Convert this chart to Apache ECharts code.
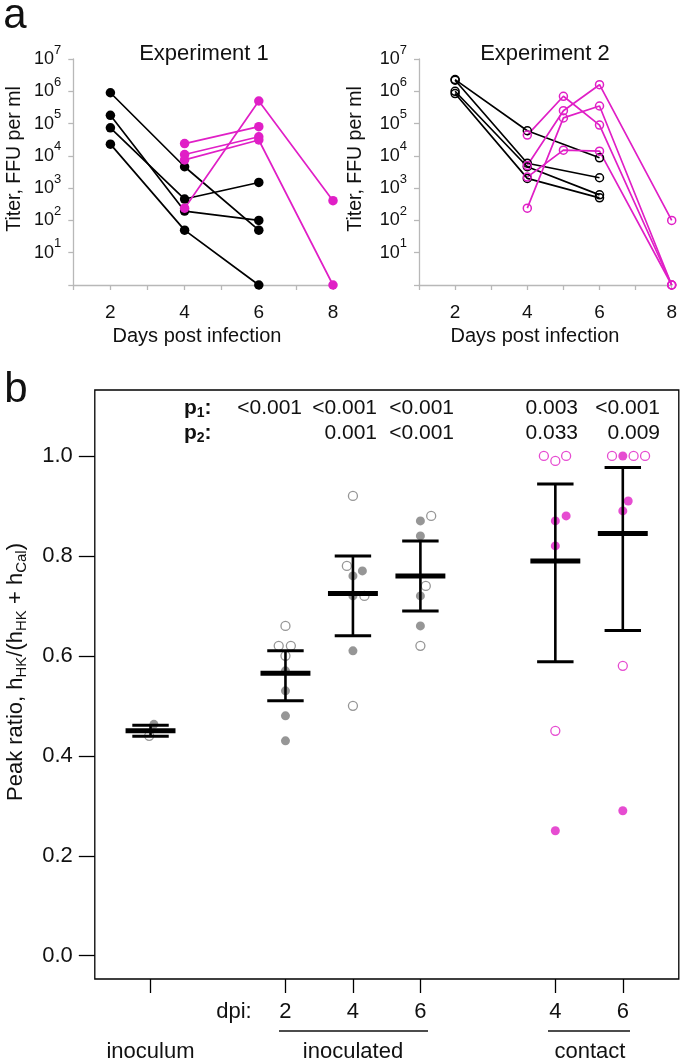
<!DOCTYPE html>
<html>
<head>
<meta charset="utf-8">
<script src="https://cdn.jsdelivr.net/npm/echarts@6/dist/echarts.min.js"></script>
<style>
  html, body { margin: 0; padding: 0; background: #fff; }
  #main { width: 680px; height: 1063px; }
</style>
</head>
<body>
<div id="main"></div>
<script>
// ---- panel a: titers (FFU per ml) ----
var exp1BlackDays = [2, 4, 6];
var exp1Black = [
  [9e5, 4.6e3, 50],
  [1.8e5, 195, 100],
  [7.4e4, 460, 1500],
  [2.3e4, 50, 1]
];
var exp1MagentaDays = [4, 6, 8];
var exp1Magenta = [
  [2.4e4, 8e4, null],
  [1.1e4, 3.9e4, null],
  [7.5e3, 3.1e4, 1],
  [240, 5e5, 410]
];
var exp2BlackDays = [2, 4, 6];
var exp2Black = [
  [2.3e6, 6e4, 8.7e3],
  [2.2e6, 5.9e3, 2.1e3],
  [1.0e6, 4.6e3, 620],
  [8.5e5, 2e3, 500]
];
var exp2MagentaDays = [4, 5, 6, 8];
var exp2Magenta = [
  [4.4e4, 7e5, 9e4, 1],
  [5e3, 2.5e5, 1.6e6, 100],
  [240, 1.5e5, 3.5e5, 1],
  [2.2e3, 1.5e4, 1.4e4, 1]
];

// ---- panel b: peak ratio ----
var groupX = [1, 3, 4, 5, 7, 8];
var groupDpi = ["", "2", "4", "6", "4", "6"];
var groupMean = [0.45, 0.565, 0.725, 0.76, 0.79, 0.845];
var groupLower = [0.439, 0.51, 0.64, 0.69, 0.588, 0.651];
var groupUpper = [0.461, 0.61, 0.80, 0.83, 0.944, 0.977];
var yTicksB = [0, 0.2, 0.4, 0.6, 0.8, 1.0];

var pointGroup = [0, 0,
  1, 1, 1, 1, 1, 1, 1, 1,
  2, 2, 2, 2, 2, 2, 2, 2,
  3, 3, 3, 3, 3, 3, 3,
  4, 4, 4, 4, 4, 4, 4, 4,
  5, 5, 5, 5, 5, 5, 5, 5];
var pointValue = [0.463, 0.44,
  0.66, 0.62, 0.62, 0.60, 0.57, 0.53, 0.48, 0.43,
  0.92, 0.78, 0.77, 0.76, 0.72, 0.72, 0.61, 0.50,
  0.87, 0.88, 0.84, 0.74, 0.72, 0.66, 0.62,
  1.0, 0.99, 1.0, 0.88, 0.87, 0.82, 0.45, 0.25,
  1.0, 1.0, 1.0, 1.0, 0.91, 0.89, 0.58, 0.29];
var pointFilled = [1, 0,
  0, 0, 0, 0, 1, 1, 1, 1,
  0, 0, 1, 1, 1, 0, 1, 0,
  1, 0, 1, 0, 1, 1, 0,
  0, 0, 0, 1, 1, 1, 0, 1,
  0, 1, 0, 0, 1, 1, 0, 1];
// horizontal jitter of overlapping points
var pointJitter = [0.05, -0.02,
  0, -0.1, 0.08, 0, 0, 0, 0, 0,
  0, -0.09, 0.14, 0, 0, 0.17, 0, 0,
  0, 0.16, 0, 0.08, 0, 0, 0,
  -0.17, 0, 0.16, 0.16, 0, 0, 0, 0,
  -0.16, 0, 0.16, 0.33, 0.08, 0, 0, 0];

var p1Values = ["<0.001", "<0.001", "<0.001", "0.003", "<0.001"];
var p2Values = ["", "0.001", "<0.001", "0.033", "0.009"];

(function() {
  var myChart = echarts.init(document.getElementById("main"));
  var FONT = '"Liberation Sans", Arial, sans-serif';
  var MAGENTA = "#e01fc6";
  var GRAY = "#7c7c7c";
  var AXGRAY = "#b8b8b8";

  function titerSeries(days, rows, grid, open, color) {
    return rows.map(function(row) {
      var pts = [];
      row.forEach(function(v, i) {
        if (v != null) pts.push([days[i], v]);
      });
      return {
        type: "line",
        xAxisIndex: grid,
        yAxisIndex: grid,
        data: pts,
        symbol: "circle",
        symbolSize: open ? 8 : 9.5,
        silent: true,
        lineStyle: { color: color, width: 1.7 },
        itemStyle: open
          ? { color: "rgba(0,0,0,0)", borderColor: color, borderWidth: 1.5 }
          : { color: color, borderWidth: 0 }
      };
    });
  }

  function pointSeries(filled, magenta) {
    var data = [];
    pointValue.forEach(function(v, i) {
      var g = pointGroup[i];
      var isMag = g >= 4;
      if (pointFilled[i] === filled && isMag === magenta) {
        data.push([groupX[g] + pointJitter[i], v]);
      }
    });
    var c = magenta ? MAGENTA : GRAY;
    return {
      type: "scatter",
      xAxisIndex: 2,
      yAxisIndex: 2,
      data: data,
      symbol: "circle",
      symbolSize: 9,
      silent: true,
      z: 3,
      itemStyle: filled
        ? { color: c, borderWidth: 0 }
        : { color: "rgba(0,0,0,0)", borderColor: c, borderWidth: 1.3 }
    };
  }

  function supLabel(v) {
    var e = Math.round(Math.log(v) / Math.LN10);
    if (e === 0) return "";
    return "{b|10}{s|" + e + "}";
  }

  var supRich = {
    b: { fontSize: 18, fontFamily: FONT, color: "#111" },
    s: { fontSize: 13, fontFamily: FONT, color: "#111", padding: [0, 0, 18, 0] }
  };

  function titerX(grid) {
    return {
      gridIndex: grid,
      type: "value",
      min: 1,
      max: 8,
      interval: 1,
      axisLine: { onZero: false, lineStyle: { color: AXGRAY, width: 1.3 } },
      axisTick: { length: 5, lineStyle: { color: AXGRAY, width: 1.3 } },
      axisLabel: {
        formatter: function(v) { return v % 2 === 0 ? String(v) : ""; },
        fontSize: 19,
        fontFamily: FONT,
        color: "#111",
        margin: 18,
        showMinLabel: true,
        showMaxLabel: true
      },
      splitLine: { show: false }
    };
  }

  function titerY(grid) {
    return {
      gridIndex: grid,
      type: "log",
      logBase: 10,
      min: 1,
      max: 1e7,
      splitNumber: 7,
      axisLine: { show: true, onZero: false, lineStyle: { color: AXGRAY, width: 1.3 } },
      axisTick: { show: true, length: 5, lineStyle: { color: AXGRAY, width: 1.3 } },
      axisLabel: {
        formatter: supLabel,
        rich: supRich,
        margin: 12,
        showMinLabel: true,
        showMaxLabel: true
      },
      splitLine: { show: false }
    };
  }

  var series = []
    .concat(titerSeries(exp1BlackDays, exp1Black, 0, false, "#000"))
    .concat(titerSeries(exp1MagentaDays, exp1Magenta, 0, false, MAGENTA))
    .concat(titerSeries(exp2BlackDays, exp2Black, 1, true, "#000"))
    .concat(titerSeries(exp2MagentaDays, exp2Magenta, 1, true, MAGENTA))
    .concat([
      pointSeries(1, false),
      pointSeries(0, false),
      pointSeries(1, true),
      pointSeries(0, true)
    ]);

  // mean with error bars
  series.push({
    type: "custom",
    xAxisIndex: 2,
    yAxisIndex: 2,
    z: 10,
    silent: true,
    encode: { x: 0, y: 1 },
    data: groupX.map(function(x, i) {
      return [x, groupMean[i], groupLower[i], groupUpper[i]];
    }),
    renderItem: function(params, api) {
      var x = api.value(0);
      var m = api.coord([x, api.value(1)]);
      var lo = api.coord([x, api.value(2)]);
      var hi = api.coord([x, api.value(3)]);
      var capW = api.size([0.27, 0])[0];
      var meanW = api.size([0.37, 0])[0];
      var st = { stroke: "#000", lineWidth: 3 };
      return {
        type: "group",
        children: [
          { type: "line", shape: { x1: lo[0], y1: lo[1], x2: hi[0], y2: hi[1] }, style: { stroke: "#000", lineWidth: 2.6 } },
          { type: "line", shape: { x1: lo[0] - capW, y1: lo[1], x2: lo[0] + capW, y2: lo[1] }, style: st },
          { type: "line", shape: { x1: hi[0] - capW, y1: hi[1], x2: hi[0] + capW, y2: hi[1] }, style: st },
          { type: "line", shape: { x1: m[0] - meanW, y1: m[1], x2: m[0] + meanW, y2: m[1] }, style: { stroke: "#000", lineWidth: 5 } }
        ]
      };
    }
  });

  function txt(x, y, text, size, extra) {
    var style = {
      text: text,
      fontSize: size,
      fontFamily: FONT,
      fill: "#111",
      align: "center",
      verticalAlign: "middle"
    };
    for (var k in (extra || {})) style[k] = extra[k];
    return { type: "text", x: x, y: y, style: style, silent: true };
  }

  var graphics = [
    txt(15, 16, "a", 42),
    txt(16, 390, "b", 42),
    txt(204, 54, "Experiment 1", 22),
    txt(545, 54, "Experiment 2", 22),
    txt(197, 336, "Days post infection", 20),
    txt(535, 336, "Days post infection", 20)
  ];
  [15, 356].forEach(function(x) {
    var t = txt(x, 159, "Titer, FFU per ml", 19.5);
    t.rotation = Math.PI / 2;
    graphics.push(t);
  });
  var yl = txt(16, 672, "Peak ratio, h{s|HK}/(h{s|HK} + h{s|Cal})", 22, {
    rich: { s: { fontSize: 15, fontFamily: FONT, fill: "#111", padding: [12, 0, 0, 0] } }
  });
  yl.rotation = Math.PI / 2;
  graphics.push(yl);

  // p-values
  var pRich = { s: { fontSize: 14, fontWeight: "bold", fontFamily: FONT, fill: "#111", padding: [10, 0, 0, 0] } };
  graphics.push(txt(184, 408, "p{s|1}:", 21, { align: "left", fontWeight: "bold", rich: pRich }));
  graphics.push(txt(184, 433, "p{s|2}:", 21, { align: "left", fontWeight: "bold", rich: pRich }));
  var pRight = [302, 377, 454, 578, 660];
  p1Values.forEach(function(p, i) {
    graphics.push(txt(pRight[i], 408, p, 21, { align: "right" }));
  });
  p2Values.forEach(function(p, i) {
    if (p) graphics.push(txt(pRight[i], 433, p, 21, { align: "right" }));
  });

  // group labels under panel b
  graphics.push(txt(234, 1012, "dpi:", 22));
  graphics.push({ type: "line", shape: { x1: 279, y1: 1031, x2: 428, y2: 1031 }, style: { stroke: "#111", lineWidth: 1.3 }, silent: true });
  graphics.push({ type: "line", shape: { x1: 548, y1: 1031, x2: 630, y2: 1031 }, style: { stroke: "#111", lineWidth: 1.3 }, silent: true });
  graphics.push(txt(150.5, 1052, "inoculum", 22));
  graphics.push(txt(353, 1052, "inoculated", 22));
  graphics.push(txt(590, 1052, "contact", 22));

  var option = {
    animation: false,
    backgroundColor: "#fff",
    grid: [
      { left: 73.3, top: 59, width: 259.7, height: 226 },
      { left: 419, top: 59, width: 254.3, height: 226 },
      { left: 94.8, top: 390, width: 584, height: 589, show: true, borderColor: "#000", borderWidth: 1.3 }
    ],
    xAxis: [
      titerX(0),
      titerX(1),
      {
        gridIndex: 2,
        type: "value",
        min: 0.174,
        max: 8.83,
        axisLine: { show: false, onZero: false },
        splitLine: { show: false },
        axisTick: { show: true, customValues: groupX, length: 14, lineStyle: { color: "#000", width: 1.3 } },
        axisLabel: {
          customValues: groupX.slice(1),
          formatter: function(v) { return groupDpi[groupX.indexOf(v)]; },
          fontSize: 22,
          fontFamily: FONT,
          color: "#111",
          margin: 22
        }
      }
    ],
    yAxis: [
      titerY(0),
      titerY(1),
      {
        gridIndex: 2,
        type: "value",
        min: -0.0466,
        max: 1.132,
        axisLine: { show: false, onZero: false },
        splitLine: { show: false },
        axisTick: { show: true, customValues: yTicksB, length: 16, lineStyle: { color: "#000", width: 1.3 } },
        axisLabel: {
          customValues: yTicksB,
          formatter: function(v) { return v.toFixed(1); },
          fontSize: 22,
          fontFamily: FONT,
          color: "#111",
          margin: 22
        }
      }
    ],
    series: series,
    graphic: graphics
  };

  myChart.setOption(option);
  window.addEventListener("resize", function() {
    myChart.resize();
  });
})();
</script>
</body>
</html>
